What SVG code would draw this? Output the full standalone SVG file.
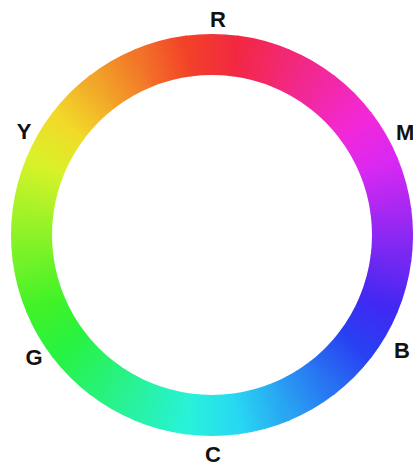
<svg xmlns="http://www.w3.org/2000/svg" xmlns:xlink="http://www.w3.org/1999/xlink" width="413" height="466" viewBox="0 0 413 466">
  <style>
    .lbl { font-family: "Liberation Sans", Arial, sans-serif; font-weight: bold; font-size: 22px; fill: #111; }
  </style>
  <defs>
    <path id="seg" d="M -26.96 -199.19 A 201 201 0 0 1 26.96 -199.19 L 21.44 -158.56 A 160 160 0 0 0 -21.44 -158.56 Z"/>
    <linearGradient id="g0" gradientUnits="userSpaceOnUse" x1="-23.49" y1="-178" x2="23.49" y2="-178"><stop offset="0" stop-color="#f24128"/><stop offset="1" stop-color="#f22841"/></linearGradient>
    <linearGradient id="g1" gradientUnits="userSpaceOnUse" x1="-23.49" y1="-178" x2="23.49" y2="-178"><stop offset="0" stop-color="#f22841"/><stop offset="1" stop-color="#f22874"/></linearGradient>
    <linearGradient id="g2" gradientUnits="userSpaceOnUse" x1="-23.49" y1="-178" x2="23.49" y2="-178"><stop offset="0" stop-color="#f22874"/><stop offset="1" stop-color="#f228a6"/></linearGradient>
    <linearGradient id="g3" gradientUnits="userSpaceOnUse" x1="-23.49" y1="-178" x2="23.49" y2="-178"><stop offset="0" stop-color="#f228a6"/><stop offset="1" stop-color="#f228d9"/></linearGradient>
    <linearGradient id="g4" gradientUnits="userSpaceOnUse" x1="-23.49" y1="-178" x2="23.49" y2="-178"><stop offset="0" stop-color="#f228d9"/><stop offset="1" stop-color="#d928f2"/></linearGradient>
    <linearGradient id="g5" gradientUnits="userSpaceOnUse" x1="-23.49" y1="-178" x2="23.49" y2="-178"><stop offset="0" stop-color="#d928f2"/><stop offset="1" stop-color="#a628f2"/></linearGradient>
    <linearGradient id="g6" gradientUnits="userSpaceOnUse" x1="-23.49" y1="-178" x2="23.49" y2="-178"><stop offset="0" stop-color="#a628f2"/><stop offset="1" stop-color="#7428f2"/></linearGradient>
    <linearGradient id="g7" gradientUnits="userSpaceOnUse" x1="-23.49" y1="-178" x2="23.49" y2="-178"><stop offset="0" stop-color="#7428f2"/><stop offset="1" stop-color="#4128f2"/></linearGradient>
    <linearGradient id="g8" gradientUnits="userSpaceOnUse" x1="-23.49" y1="-178" x2="23.49" y2="-178"><stop offset="0" stop-color="#4128f2"/><stop offset="1" stop-color="#2841f2"/></linearGradient>
    <linearGradient id="g9" gradientUnits="userSpaceOnUse" x1="-23.49" y1="-178" x2="23.49" y2="-178"><stop offset="0" stop-color="#2841f2"/><stop offset="1" stop-color="#2874f2"/></linearGradient>
    <linearGradient id="g10" gradientUnits="userSpaceOnUse" x1="-23.49" y1="-178" x2="23.49" y2="-178"><stop offset="0" stop-color="#2874f2"/><stop offset="1" stop-color="#28a6f2"/></linearGradient>
    <linearGradient id="g11" gradientUnits="userSpaceOnUse" x1="-23.49" y1="-178" x2="23.49" y2="-178"><stop offset="0" stop-color="#28a6f2"/><stop offset="1" stop-color="#28d9f2"/></linearGradient>
    <linearGradient id="g12" gradientUnits="userSpaceOnUse" x1="-23.49" y1="-178" x2="23.49" y2="-178"><stop offset="0" stop-color="#28d9f2"/><stop offset="1" stop-color="#28f2d9"/></linearGradient>
    <linearGradient id="g13" gradientUnits="userSpaceOnUse" x1="-23.49" y1="-178" x2="23.49" y2="-178"><stop offset="0" stop-color="#28f2d9"/><stop offset="1" stop-color="#28f2a6"/></linearGradient>
    <linearGradient id="g14" gradientUnits="userSpaceOnUse" x1="-23.49" y1="-178" x2="23.49" y2="-178"><stop offset="0" stop-color="#28f2a6"/><stop offset="1" stop-color="#28f274"/></linearGradient>
    <linearGradient id="g15" gradientUnits="userSpaceOnUse" x1="-23.49" y1="-178" x2="23.49" y2="-178"><stop offset="0" stop-color="#28f274"/><stop offset="1" stop-color="#28f241"/></linearGradient>
    <linearGradient id="g16" gradientUnits="userSpaceOnUse" x1="-23.49" y1="-178" x2="23.49" y2="-178"><stop offset="0" stop-color="#28f241"/><stop offset="1" stop-color="#41f228"/></linearGradient>
    <linearGradient id="g17" gradientUnits="userSpaceOnUse" x1="-23.49" y1="-178" x2="23.49" y2="-178"><stop offset="0" stop-color="#41f228"/><stop offset="1" stop-color="#74f228"/></linearGradient>
    <linearGradient id="g18" gradientUnits="userSpaceOnUse" x1="-23.49" y1="-178" x2="23.49" y2="-178"><stop offset="0" stop-color="#74f228"/><stop offset="1" stop-color="#a6f228"/></linearGradient>
    <linearGradient id="g19" gradientUnits="userSpaceOnUse" x1="-23.49" y1="-178" x2="23.49" y2="-178"><stop offset="0" stop-color="#a6f228"/><stop offset="1" stop-color="#d9f228"/></linearGradient>
    <linearGradient id="g20" gradientUnits="userSpaceOnUse" x1="-23.49" y1="-178" x2="23.49" y2="-178"><stop offset="0" stop-color="#d9f228"/><stop offset="1" stop-color="#f2d928"/></linearGradient>
    <linearGradient id="g21" gradientUnits="userSpaceOnUse" x1="-23.49" y1="-178" x2="23.49" y2="-178"><stop offset="0" stop-color="#f2d928"/><stop offset="1" stop-color="#f2a628"/></linearGradient>
    <linearGradient id="g22" gradientUnits="userSpaceOnUse" x1="-23.49" y1="-178" x2="23.49" y2="-178"><stop offset="0" stop-color="#f2a628"/><stop offset="1" stop-color="#f27428"/></linearGradient>
    <linearGradient id="g23" gradientUnits="userSpaceOnUse" x1="-23.49" y1="-178" x2="23.49" y2="-178"><stop offset="0" stop-color="#f27428"/><stop offset="1" stop-color="#f24128"/></linearGradient>
  </defs>
  <rect width="413" height="466" fill="#ffffff"/>
  <g id="wheel" transform="translate(212 235)">
    <use xlink:href="#seg" href="#seg" fill="url(#g0)" transform="rotate(0)"/>
    <use xlink:href="#seg" href="#seg" fill="url(#g1)" transform="rotate(15)"/>
    <use xlink:href="#seg" href="#seg" fill="url(#g2)" transform="rotate(30)"/>
    <use xlink:href="#seg" href="#seg" fill="url(#g3)" transform="rotate(45)"/>
    <use xlink:href="#seg" href="#seg" fill="url(#g4)" transform="rotate(60)"/>
    <use xlink:href="#seg" href="#seg" fill="url(#g5)" transform="rotate(75)"/>
    <use xlink:href="#seg" href="#seg" fill="url(#g6)" transform="rotate(90)"/>
    <use xlink:href="#seg" href="#seg" fill="url(#g7)" transform="rotate(105)"/>
    <use xlink:href="#seg" href="#seg" fill="url(#g8)" transform="rotate(120)"/>
    <use xlink:href="#seg" href="#seg" fill="url(#g9)" transform="rotate(135)"/>
    <use xlink:href="#seg" href="#seg" fill="url(#g10)" transform="rotate(150)"/>
    <use xlink:href="#seg" href="#seg" fill="url(#g11)" transform="rotate(165)"/>
    <use xlink:href="#seg" href="#seg" fill="url(#g12)" transform="rotate(180)"/>
    <use xlink:href="#seg" href="#seg" fill="url(#g13)" transform="rotate(195)"/>
    <use xlink:href="#seg" href="#seg" fill="url(#g14)" transform="rotate(210)"/>
    <use xlink:href="#seg" href="#seg" fill="url(#g15)" transform="rotate(225)"/>
    <use xlink:href="#seg" href="#seg" fill="url(#g16)" transform="rotate(240)"/>
    <use xlink:href="#seg" href="#seg" fill="url(#g17)" transform="rotate(255)"/>
    <use xlink:href="#seg" href="#seg" fill="url(#g18)" transform="rotate(270)"/>
    <use xlink:href="#seg" href="#seg" fill="url(#g19)" transform="rotate(285)"/>
    <use xlink:href="#seg" href="#seg" fill="url(#g20)" transform="rotate(300)"/>
    <use xlink:href="#seg" href="#seg" fill="url(#g21)" transform="rotate(315)"/>
    <use xlink:href="#seg" href="#seg" fill="url(#g22)" transform="rotate(330)"/>
    <use xlink:href="#seg" href="#seg" fill="url(#g23)" transform="rotate(345)"/>
  </g>
  <g id="label-R"><text class="lbl" x="218" y="27" text-anchor="middle">R</text></g>
  <g id="label-M"><text class="lbl" x="396" y="140">M</text></g>
  <g id="label-B"><text class="lbl" x="402" y="358" text-anchor="middle">B</text></g>
  <g id="label-C"><text class="lbl" x="213" y="462" text-anchor="middle">C</text></g>
  <g id="label-G"><text class="lbl" x="34" y="365" text-anchor="middle">G</text></g>
  <g id="label-Y"><text class="lbl" x="24" y="139" text-anchor="middle">Y</text></g>
</svg>
